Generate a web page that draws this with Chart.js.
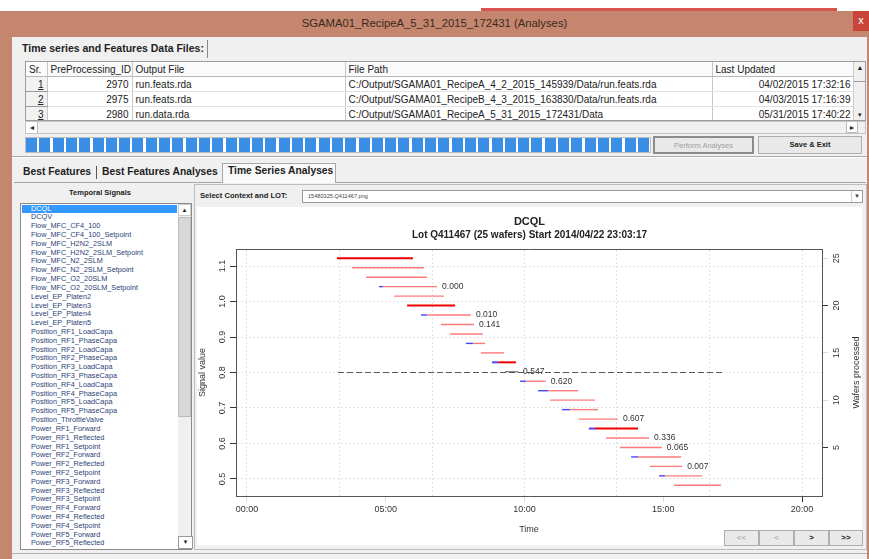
<!DOCTYPE html>
<html>
<head>
<meta charset="utf-8">
<title>SGAMA01_RecipeA_5_31_2015_172431 (Analyses)</title>
<script src="https://cdn.jsdelivr.net/npm/chart.js@4.4.1/dist/chart.umd.min.js"></script>
<style>
  body { margin:0; width:869px; height:559px; overflow:hidden; position:relative; background:#fff;
         font-family:"Liberation Sans",Arial,sans-serif; color:#222; }
  .abs { position:absolute; box-sizing:border-box; }
  #files { border-collapse:collapse; table-layout:fixed; width:828px; font-size:10px; }
  #files th, #files td { height:14px; padding:0 3px; border-right:1px solid #c8c8c8; border-bottom:1px solid #e2e2e2;
                         white-space:nowrap; overflow:hidden; text-align:left; font-weight:normal; line-height:13px; }
  #files th { background:#fafafa; border-bottom:1px solid #b8b8b8; }
  #files td.num { text-align:right; }
  #files td.sr { text-align:right; background:#f2f2f2; border-bottom:1px solid #9a9a9a; text-decoration:underline; }
  .btn { background:#e9e9e9; border:1px solid #adadad; text-align:center; font-size:7.5px; }
  .lb div { height:8.82px; line-height:8.82px; font-size:7.3px; padding-left:10px; white-space:nowrap; color:#2d3f78; }
  .lb div.sel { background:#3399ff; color:#fff; margin-left:1px; width:146px; padding-left:9px; }
  .tab { font-size:10.3px; font-weight:bold; top:166px; }
</style>
</head>
<body>
<!-- window frame -->
<div class="abs" style="left:481px;top:8px;width:356px;height:3px;background:#d9534f"></div>
<div class="abs" style="left:0;top:11px;width:869px;height:548px;background:#c4866e"></div>
<div class="abs" style="left:0;top:11px;width:869px;height:26px;line-height:24px;text-align:center;font-size:11.3px;color:#3b2a22">SGAMA01_RecipeA_5_31_2015_172431 (Analyses)</div>
<div class="abs" style="left:853px;top:11px;width:16px;height:20px;background:#c9453a;color:#fff;font-size:11px;text-align:center;line-height:18px">x</div>
<div class="abs" style="left:12px;top:37px;width:855px;height:522px;background:#f0f0f0"></div>

<!-- data files -->
<div class="abs" style="left:22px;top:42px;font-size:10.5px;font-weight:bold">Time series and Features Data Files:</div>
<div class="abs" style="left:207px;top:40px;width:1px;height:18px;background:#8a8a8a"></div>
<div class="abs" style="left:25px;top:61px;width:841px;height:60px;background:#fff;border:1px solid #9c9c9c;overflow:hidden">
  <table id="files">
    <colgroup><col style="width:21px"><col style="width:85px"><col style="width:213px"><col style="width:367px"><col style="width:142px"></colgroup>
    <tr><th>Sr.</th><th>PreProcessing_ID</th><th>Output File</th><th>File Path</th><th>Last Updated</th></tr>
    <tr><td class="sr">1</td><td class="num">2970</td><td>run.feats.rda</td><td>C:/Output/SGAMA01_RecipeA_4_2_2015_145939/Data/run.feats.rda</td><td class="num">04/02/2015 17:32:16</td></tr>
    <tr><td class="sr">2</td><td class="num">2975</td><td>run.feats.rda</td><td>C:/Output/SGAMA01_RecipeB_4_3_2015_163830/Data/run.feats.rda</td><td class="num">04/03/2015 17:16:39</td></tr>
    <tr><td class="sr">3</td><td class="num">2980</td><td>run.data.rda</td><td>C:/Output/SGAMA01_RecipeA_5_31_2015_172431/Data</td><td class="num">05/31/2015 17:40:22</td></tr>
  </table>
  <div class="abs" style="left:827px;top:0;width:13px;height:58px;background:#f0f0f0;border-left:1px solid #ccc;font-size:7px;text-align:center">
    <div style="line-height:11px">&#9650;</div><div style="height:8px;border-bottom:1px solid #999"></div>
    <div style="position:absolute;bottom:0;width:12px;line-height:11px">&#9662;</div>
  </div>
</div>
<div class="abs" style="left:25px;top:121px;width:841px;height:13px;background:#f0f0f0;border:1px solid #c4c4c4;font-size:8px;line-height:11px">
  <div class="abs" style="left:0;top:0;width:12px;height:11px;background:#fff;border-right:1px solid #bbb;text-align:center">&#9666;</div>
  <div class="abs" style="left:820px;top:0;width:12px;height:11px;background:#fff;border:1px solid #bbb;border-top:0;text-align:center">&#9656;</div>
</div>

<!-- progress + buttons -->
<div class="abs" style="left:25px;top:137px;width:626px;height:16px;border:1px solid #bcbcbc;background:repeating-linear-gradient(90deg,#3a8ee6 0 11px,#ffffff 11px 13.3px)"></div>
<div class="abs btn" style="left:653px;top:136px;width:101px;height:18px;line-height:16px;color:#a0a0a0;border:2px solid #8c8c8c">Perform Analyses</div>
<div class="abs btn" style="left:758px;top:136px;width:104px;height:18px;line-height:16px;font-weight:bold;color:#222">Save &amp; Exit</div>
<div class="abs" style="left:12px;top:156px;width:855px;height:1px;background:#a8a8a8"></div>
<div class="abs" style="left:12px;top:157px;width:855px;height:1px;background:#fff"></div>

<!-- tabs -->
<div class="abs tab" style="left:23px">Best Features</div>
<div class="abs" style="left:96px;top:166px;width:1px;height:13px;background:#555"></div>
<div class="abs tab" style="left:102px">Best Features Analyses</div>
<div class="abs" style="left:222px;top:163px;width:114px;height:20px;background:#f9f9f9;border:1px solid #a8a8a8;border-bottom:0"></div>
<div class="abs tab" style="left:228px;top:165px">Time Series Analyses</div>
<div class="abs" style="left:14px;top:182px;width:208px;height:1px;background:#a8a8a8"></div>
<div class="abs" style="left:336px;top:182px;width:530px;height:1px;background:#a8a8a8"></div>

<!-- signals list -->
<div class="abs" style="left:20px;top:188px;width:160px;text-align:center;font-size:7.5px;font-weight:bold">Temporal Signals</div>
<div class="abs lb" id="signals" style="left:20px;top:203px;width:172px;height:347px;background:#fff;border:1px solid #8a8a8a;padding-top:0.6px;overflow:hidden"></div>
<div class="abs" style="left:178px;top:204px;width:13px;height:345px;background:#f0f0f0;font-size:6px;text-align:center">
  <div style="height:10px;line-height:10px;background:#fff;border:1px solid #ccc">&#9650;</div>
  <div style="height:198px;margin-top:1px;background:#d8d8d8;border:1px solid #bbb"></div>
  <div style="position:absolute;bottom:0;width:13px;height:11px;line-height:11px;background:#fff;border:1px solid #999">&#9660;</div>
</div>

<!-- time series panel -->
<div class="abs" style="left:194px;top:184px;width:673px;height:366px;border:1px solid #bdbdbd"></div>
<div class="abs" style="left:200px;top:191px;font-size:7.6px;font-weight:bold">Select Context and LOT:</div>
<div class="abs" style="left:302px;top:190px;width:561px;height:13px;background:#fff;border:1px solid #9a9a9a;font-size:5.6px;line-height:11px;padding-left:5px;color:#444">15480325.Q411467.png
  <div class="abs" style="right:0;top:0;width:11px;height:11px;border-left:1px solid #ccc;text-align:center;font-size:6px">&#9660;</div>
</div>
<canvas id="tsChart" class="abs" width="665" height="338" style="left:197px;top:207px;background:#fff"></canvas>
<div class="abs btn" style="left:724px;top:530px;width:35px;height:16px;line-height:14px;font-size:8px;color:#999">&lt;&lt;</div>
<div class="abs btn" style="left:759px;top:530px;width:35px;height:16px;line-height:14px;font-size:8px;color:#999">&lt;</div>
<div class="abs btn" style="left:794px;top:530px;width:35px;height:16px;line-height:14px;font-size:8px;font-weight:bold">&gt;</div>
<div class="abs btn" style="left:829px;top:530px;width:34px;height:16px;line-height:14px;font-size:8px;font-weight:bold">&gt;&gt;</div>
<div class="abs" style="left:12px;top:553px;width:855px;height:1px;background:#b0b0b0"></div>

<script>
// list of signals on the left
const signals = ["DCQL", "DCQV", "Flow_MFC_CF4_100", "Flow_MFC_CF4_100_Setpoint", "Flow_MFC_H2N2_2SLM",
  "Flow_MFC_H2N2_2SLM_Setpoint", "Flow_MFC_N2_2SLM", "Flow_MFC_N2_2SLM_Setpoint", "Flow_MFC_O2_20SLM",
  "Flow_MFC_O2_20SLM_Setpoint", "Level_EP_Platen2", "Level_EP_Platen3", "Level_EP_Platen4", "Level_EP_Platen5",
  "Position_RF1_LoadCapa", "Position_RF1_PhaseCapa", "Position_RF2_LoadCapa", "Position_RF2_PhaseCapa",
  "Position_RF3_LoadCapa", "Position_RF3_PhaseCapa", "Position_RF4_LoadCapa", "Position_RF4_PhaseCapa",
  "Position_RF5_LoadCapa", "Position_RF5_PhaseCapa", "Position_ThrottleValve", "Power_RF1_Forward",
  "Power_RF1_Reflected", "Power_RF1_Setpoint", "Power_RF2_Forward", "Power_RF2_Reflected", "Power_RF2_Setpoint",
  "Power_RF3_Forward", "Power_RF3_Reflected", "Power_RF3_Setpoint", "Power_RF4_Forward", "Power_RF4_Reflected",
  "Power_RF4_Setpoint", "Power_RF5_Forward", "Power_RF5_Reflected"];

const box = document.getElementById("signals");
signals.forEach((s, i) => {
  const d = document.createElement("div");
  d.textContent = s;
  if (i === 0) d.className = "sel";
  box.appendChild(d);
});

// ---- chart data ----
const hourTicks = [0, 5, 10, 15, 20];
const gridHours = [0, 3.333, 6.667, 10, 13.333, 16.667, 20];
const signalTicks = [0.5, 0.6, 0.7, 0.8, 0.9, 1.0, 1.1];
const waferTicks = [5, 10, 15, 20, 25];

// one entry per wafer, top row first (times in hours after lot start)
const waferPos = [25, 24, 23, 22, 21, 20, 19, 18, 17, 16, 15, 14, 13, 12, 11, 10, 9, 8, 7, 6, 5, 4, 3, 2, 1];
const startH = [3.24, 3.78, 4.29, 4.76, 5.30, 5.77, 6.27, 6.99, 7.32, 7.89, 8.43, 8.83, 9.30,
  9.84, 10.49, 10.92, 11.35, 11.96, 12.32, 12.94, 13.44, 13.84, 14.52, 14.85, 15.39];
const blueEndH = [null, null, null, 4.90, null, null, 6.49, null, null, 8.14, null, 9.05, null,
  10.05, 10.85, null, 11.64, null, 12.54, null, null, 14.09, null, 15.06, null];
const endH = [5.98, 6.38, 6.49, 6.85, 7.10, 7.50, 8.07, 8.18, 8.50, 8.58, 9.26, 9.69, 9.77,
  10.77, 11.93, 12.54, 12.65, 13.37, 14.09, 14.49, 14.95, 15.64, 15.68, 16.40, 17.08];
const pValue = ["", "", "", "0.000", "", "", "0.010", "0.141", "", "", "", "", "0.547",
  "0.620", "", "", "", "0.607", "", "0.336", "0.065", "", "0.007", "", ""];
const highlightWafers = [1, 6, 12, 19];
const greyWafers = [13];
const refLevel = 0.8;
const refSpanH = [3.28, 17.12];

const datasets = [];
datasets.push({
  data: [{ x: refSpanH[0], y: refLevel }, { x: refSpanH[1], y: refLevel }],
  yAxisID: "y", borderColor: "#5a5a5a", borderWidth: 1, borderDash: [6, 3]
});
waferPos.forEach((w, i) => {
  const wafer = i + 1;
  let color = "#ff7a7a", width = 1.4;
  if (highlightWafers.includes(wafer)) { color = "#f00000"; width = 2; }
  if (greyWafers.includes(wafer)) { color = "#5a5a5a"; width = 1; }
  let redFrom = startH[i];
  if (blueEndH[i] !== null) {
    datasets.push({ data: [{ x: startH[i], y: w }, { x: blueEndH[i], y: w }], yAxisID: "y2", borderColor: "#4646ff", borderWidth: width });
    redFrom = blueEndH[i];
  }
  datasets.push({ data: [{ x: redFrom, y: w }, { x: endH[i], y: w }], yAxisID: "y2", borderColor: color, borderWidth: width });
});

// p-values next to segments + right axis title (R style, reading upward)
const annotate = {
  id: "annotate",
  afterDatasetsDraw(chart) {
    const { ctx, scales: { x, y2 } } = chart;
    ctx.save();
    ctx.font = '8.5px "Liberation Sans", Arial';
    ctx.fillStyle = "#333";
    ctx.textBaseline = "middle";
    pValue.forEach((t, i) => {
      if (!t) return;
      ctx.fillText(t, x.getPixelForValue(endH[i]) + 5, y2.getPixelForValue(waferPos[i]));
    });
    ctx.translate(chart.width - 5, (chart.chartArea.top + chart.chartArea.bottom) / 2);
    ctx.rotate(-Math.PI / 2);
    ctx.textAlign = "center";
    ctx.font = '9px "Liberation Sans", Arial';
    ctx.fillText("Wafers processed", 0, 0);
    ctx.restore();
  }
};

Chart.defaults.font.family = '"Liberation Sans", Arial, sans-serif';
Chart.defaults.color = "#333";

const hrMin = -0.396, hrMax = 20.72;

new Chart(document.getElementById("tsChart").getContext("2d"), {
  type: "line",
  data: { datasets: datasets.map(d => Object.assign({ xAxisID: "x", pointRadius: 0, fill: false, tension: 0 }, d)) },
  options: {
    responsive: false,
    animation: false,
    devicePixelRatio: 1,
    layout: { padding: 0 },
    plugins: {
      legend: { display: false },
      tooltip: { enabled: false },
      title: { display: true, text: "DCQL", color: "#222", font: { size: 11, weight: "bold", lineHeight: 1.2 }, padding: { top: 8, bottom: 1 } },
      subtitle: { display: true, text: "Lot Q411467 (25 wafers) Start 2014/04/22 23:03:17", color: "#222",
        font: { size: 10, weight: "bold", lineHeight: 1.2 }, padding: { top: 0, bottom: 7.8 } }
    },
    scales: {
      x: {
        type: "linear", position: "bottom", min: hrMin, max: hrMax,
        afterBuildTicks: s => { s.ticks = hourTicks.map(v => ({ value: v })); },
        afterFit: s => { s.height = 49; },
        ticks: { callback: v => String(v).padStart(2, "0") + ":00", font: { size: 9 }, padding: 2.6, maxRotation: 0, autoSkip: false },
        grid: { drawOnChartArea: false, tickLength: 6, tickColor: c => (c.tick && c.tick.value === 20 ? "#333" : "#dadada") },
        border: { color: "#555" },
        title: { display: true, text: "Time", font: { size: 9 }, padding: { top: 0, bottom: 9.6 } }
      },
      xg: {
        type: "linear", axis: "x", position: "top", min: hrMin, max: hrMax,
        afterBuildTicks: s => { s.ticks = gridHours.map(v => ({ value: v })); },
        afterFit: s => { s.height = 0; },
        ticks: { display: false },
        grid: { color: "#e2e2e2", drawTicks: false },
        border: { color: "#555", dash: [2, 2] }
      },
      y: {
        type: "linear", position: "left", min: 0.452, max: 1.148,
        afterBuildTicks: s => { s.ticks = signalTicks.map(v => ({ value: v })); },
        afterFit: s => { s.width = 39; },
        ticks: { callback: v => v.toFixed(1), font: { size: 9 }, minRotation: 90, maxRotation: 90, crossAlign: "center", padding: 1 },
        grid: { color: "#e2e2e2", tickLength: 6, tickColor: "#333" },
        border: { color: "#555", dash: [2, 2] },
        title: { display: true, text: "Signal value", font: { size: 9 }, padding: { top: 0.6, bottom: 0 } }
      },
      y2: {
        type: "linear", position: "right", min: -0.13, max: 25.98,
        afterBuildTicks: s => { s.ticks = waferTicks.map(v => ({ value: v })); },
        afterFit: s => { s.width = 40; },
        ticks: { font: { size: 9 }, minRotation: 90, maxRotation: 90, crossAlign: "center", padding: 4 },
        grid: { drawOnChartArea: false, tickLength: 6,
          tickColor: c => (c.tick && (c.tick.value === 20 || c.tick.value === 5) ? "#333" : "#dadada") },
        border: { color: "#555" }
      }
    }
  },
  plugins: [annotate]
});
</script>
</body>
</html>
